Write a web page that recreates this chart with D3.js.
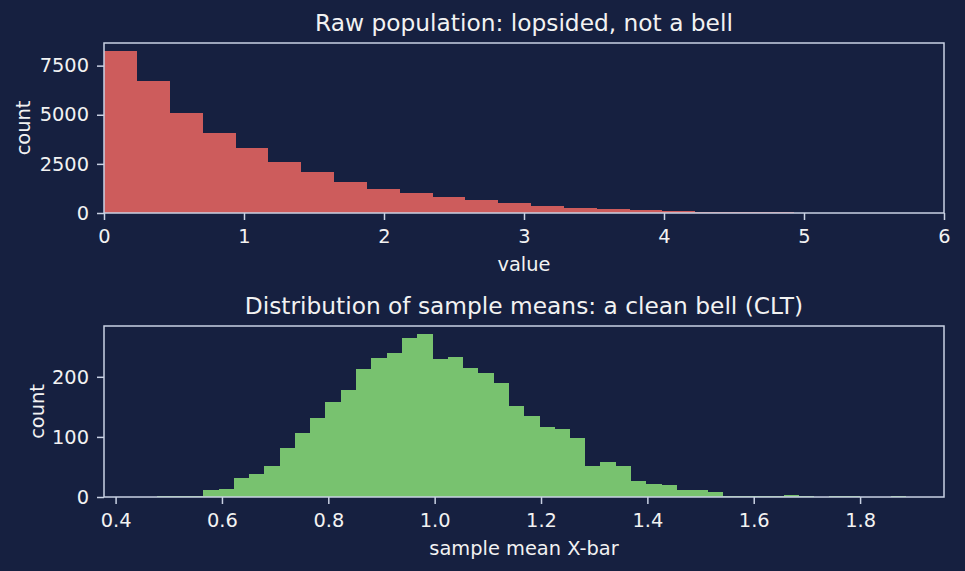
<!DOCTYPE html>
<html>
<head>
<meta charset="utf-8">
<style>
  html, body { margin: 0; padding: 0; background: #162040; }
  svg { display: block; }
  text { font-family: "DejaVu Sans", sans-serif; fill: #f2f2f2; }
</style>
</head>
<body>
<svg></svg>
<script src="https://cdn.jsdelivr.net/npm/d3@7"></script>
<script>

  const width = 965,
        height = 571,
        colors = {bg: '#162040',
                  spine: '#c9d1e3',
                  text: '#f2f2f2',
                  raw: '#cd5c5c',
                  means: '#78c26f'}

  const tickFont = "19.4px",
        titleFont = "23.3px"

  // top panel: raw population histogram (30 bins starting at 0)
  const rawBinStart = 0
  const rawBinWidth = 0.2345
  const rawCounts = [8240, 6724, 5077, 4056, 3291, 2577, 2066, 1571, 1199, 1010,
                     806, 638, 485, 360, 257, 190, 150, 100, 62, 55,
                     45, 12, 8, 6, 4, 3, 2, 1, 1, 1]
  const rawXTicks = [0, 1, 2, 3, 4, 5, 6]
  const rawYTicks = [0, 2500, 5000, 7500]

  // bottom panel: sample means histogram (50 bins)
  const meanBinStart = 0.450
  const meanBinWidth = 0.02872
  const meanCounts = [0, 1, 2, 2, 12, 14, 32, 38, 52, 82,
                      106, 131, 158, 178, 213, 232, 240, 265, 271, 229,
                      233, 215, 206, 189, 151, 135, 116, 113, 98, 51,
                      58, 51, 26, 22, 20, 12, 12, 8, 2, 2,
                      1, 1, 3, 1, 0, 1, 1, 0, 0, 1]
  const meanXTicks = [0.4, 0.6, 0.8, 1.0, 1.2, 1.4, 1.6, 1.8]
  const meanYTicks = [0, 100, 200]

  const svg = d3.select("svg")
      .attr("width", width)
      .attr("height", height)

  svg.append("rect")
    .attr("width", width)
    .attr("height", height)
    .attr("fill", colors.bg)

  function drawPanel(opts) {
    const {top, bottom, left, right, counts, binStart, binWidth, xDomain,
           xTicks, yTicks, xFormat, color, title, xLabel, yLabelX, id} = opts

    const bins = counts.map((c, i) => ({x0: binStart + i*binWidth, x1: binStart + (i+1)*binWidth, c}))

    const xScale = d3.scaleLinear().domain(xDomain).range([left, right])
    const yScale = d3.scaleLinear().domain([0, d3.max(counts)*1.05]).range([bottom, top])

    svg.append("clipPath")
      .attr("id", id)
      .append("rect")
      .attr("x", left)
      .attr("y", top)
      .attr("width", right - left)
      .attr("height", bottom - top)

    svg.append("g")
      .attr("clip-path", `url(#${id})`)
      .selectAll("rect")
      .data(bins)
      .enter()
      .append("rect")
        .attr("x", d => xScale(d.x0))
        .attr("width", d => xScale(d.x1) - xScale(d.x0) + 0.3)
        .attr("y", d => yScale(d.c))
        .attr("height", d => yScale(0) - yScale(d.c))
        .attr("fill", color)
        .attr("shape-rendering", "crispEdges")

    const xAxis = d3.axisBottom(xScale)
      .tickValues(xTicks)
      .tickSize(7)
      .tickPadding(9)
      .tickFormat(xFormat)
    const yAxis = d3.axisLeft(yScale)
      .tickValues(yTicks)
      .tickSize(7)
      .tickPadding(8)
      .tickFormat(d3.format("d"))

    const gx = svg.append("g")
      .attr("transform", `translate(0, ${bottom})`)
      .call(xAxis)
    const gy = svg.append("g")
      .attr("transform", `translate(${left}, 0)`)
      .call(yAxis)

    for (const g of [gx, gy]) {
      g.select(".domain").remove()
      g.selectAll("line").attr("stroke", colors.spine).attr("stroke-width", 1.5)
      g.selectAll("text")
        .attr("fill", colors.text)
        .style("font-family", "DejaVu Sans")
        .style("font-size", tickFont)
    }

    // frame on all four sides
    svg.append("rect")
      .attr("x", left)
      .attr("y", top)
      .attr("width", right - left)
      .attr("height", bottom - top)
      .attr("fill", "none")
      .attr("stroke", colors.spine)
      .attr("stroke-width", 1.5)

    svg.append("text")
      .attr("x", (left + right)/2)
      .attr("y", top - 12)
      .style("text-anchor", "middle")
      .style("font-size", titleFont)
      .text(title)

    svg.append("text")
      .attr("x", (left + right)/2)
      .attr("y", bottom + 58)
      .style("text-anchor", "middle")
      .style("font-size", tickFont)
      .text(xLabel)

    svg.append("text")
      .attr("transform", `translate(${yLabelX}, ${(top + bottom)/2}) rotate(-90)`)
      .style("text-anchor", "middle")
      .style("font-size", tickFont)
      .text("count")
  }

  drawPanel({
    id: "clipRaw",
    top: 43, bottom: 213, left: 104, right: 944,
    counts: rawCounts, binStart: rawBinStart, binWidth: rawBinWidth,
    xDomain: [0, 6],
    xTicks: rawXTicks, yTicks: rawYTicks,
    xFormat: d3.format("d"),
    color: colors.raw,
    title: "Raw population: lopsided, not a bell",
    xLabel: "value",
    yLabelX: 30
  })

  // matplotlib-style 5% margins around the bin range
  const meanLo = meanBinStart,
        meanHi = meanBinStart + meanCounts.length*meanBinWidth,
        pad = (meanHi - meanLo)*0.05

  drawPanel({
    id: "clipMean",
    top: 326, bottom: 497, left: 104, right: 944,
    counts: meanCounts, binStart: meanBinStart, binWidth: meanBinWidth,
    xDomain: [meanLo - pad, meanHi + pad],
    xTicks: meanXTicks, yTicks: meanYTicks,
    xFormat: d3.format(".1f"),
    color: colors.means,
    title: "Distribution of sample means: a clean bell (CLT)",
    xLabel: "sample mean X-bar",
    yLabelX: 44
  })

</script>
</body>
</html>
